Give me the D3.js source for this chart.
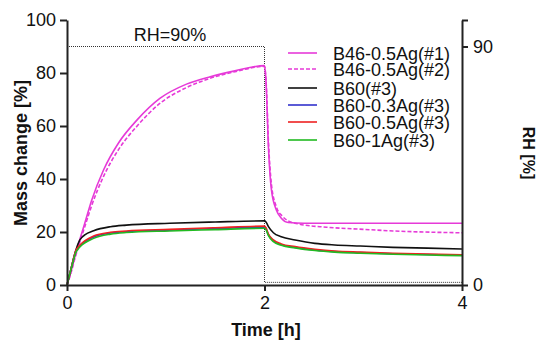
<!DOCTYPE html>
<html><head><meta charset="utf-8">
<script src="https://cdn.jsdelivr.net/npm/d3@7"></script>
<style>body{margin:0;background:#fff}svg{display:block}text{font-family:"Liberation Sans",Arial,sans-serif}</style>
</head><body>
<svg id="c" width="541" height="340"></svg>
<script>
// ---- data (time [h], mass change [%]) ----
const seriesNames = ["B46-0.5Ag(#1)","B46-0.5Ag(#2)","B60(#3)","B60-0.3Ag(#3)","B60-0.5Ag(#3)","B60-1Ag(#3)"];
const seriesColors = ["#e63ad8","#e63ad8","#111111","#3333cc","#ee2222","#22bb22"];
const seriesDash = [null,"4,2",null,null,null,null];
const b46_1 = [[0,0],[0.04,5],[0.08,10.7],[0.12,16],[0.18,23.3],[0.25,32],[0.37,43.4],[0.52,53.5],[0.71,62.3],[0.94,70.4],[1.21,75.8],[1.45,78.6],[1.7,80.8],[2.0,82.8],[2.015,77],[2.04,52],[2.07,36],[2.12,28.3],[2.17,25.2],[2.24,23.6],[2.4,23.3],[3,23.3],[4,23.3]];
const b46_2 = [[0,0],[0.04,4.5],[0.08,10],[0.12,15],[0.18,22],[0.25,30],[0.37,41],[0.52,51],[0.71,60],[0.94,68.5],[1.21,74.5],[1.45,78],[1.7,80.5],[2.0,82.5],[2.015,77.5],[2.04,54],[2.07,38],[2.12,29.5],[2.18,26],[2.25,24],[2.35,23],[2.63,21.8],[3,21],[3.3,20.4],[4,19.7]];
const b60 = [[0,0],[0.04,6],[0.09,13.2],[0.13,17],[0.18,18.9],[0.27,20.5],[0.44,22],[0.6,22.6],[1.04,23.3],[1.5,23.8],[2.0,24.2],[2.015,23.8],[2.04,22],[2.09,19.7],[2.17,18.2],[2.31,17],[2.51,15.7],[2.71,15.1],[2.97,14.7],[3.3,14.2],[3.65,13.9],[4,13.6]];
const b60_03 = [[0,0],[0.04,6],[0.09,12.7],[0.13,14.7],[0.27,18.1],[0.44,19.6],[0.6,20.1],[1.04,20.7],[1.5,21.3],[2.0,21.8],[2.015,21.2],[2.04,18.9],[2.09,16.7],[2.17,15.2],[2.31,14.2],[2.51,13.2],[2.71,12.6],[2.97,12.2],[3.3,11.8],[3.65,11.5],[4,11.2]];
const b60_05 = [[0,0],[0.04,6],[0.09,13],[0.13,15],[0.27,18.5],[0.44,19.9],[0.6,20.4],[1.04,21],[1.5,21.6],[2.0,22.2],[2.015,21.6],[2.04,19.2],[2.09,17],[2.17,15.5],[2.31,14.5],[2.51,13.5],[2.71,12.8],[2.97,12.4],[3.3,12],[3.65,11.7],[4,11.4]];
const b60_1 = [[0,0],[0.04,5.8],[0.09,12.3],[0.13,14.3],[0.27,17.6],[0.44,19.2],[0.6,19.8],[1.04,20.4],[1.5,20.9],[2.0,21.4],[2.015,20.9],[2.04,18.6],[2.09,16.4],[2.17,15],[2.31,14],[2.51,13],[2.71,12.4],[2.97,12],[3.3,11.6],[3.65,11.3],[4,11.1]];
const rhProfile = [[0,90],[2,90],[2,1],[4,1]];
const xTicks = [0,2,4];
const yTicks = [0,20,40,60,80,100];
const rhTicks = [0,90,100];

const allSeries = [b46_1,b46_2,b60,b60_03,b60_05,b60_1];

const svg = d3.select("#c");
const L=67, R=462, T=20, B=285;
const x = d3.scaleLinear().domain([0,4]).range([L,R]);
const y = d3.scaleLinear().domain([0,100]).range([B,T]);
const yr = d3.scaleLinear().domain([0,100]).range([B,T]);

// RH profile
svg.append("path").datum(rhProfile)
  .attr("d", d3.line().x(d=>x(d[0])).y(d=>yr(d[1])))
  .attr("fill","none").attr("stroke","#333").attr("stroke-width",1).attr("stroke-dasharray","1,1");

svg.append("text").attr("x",170).attr("y",41).attr("text-anchor","middle")
  .attr("font-size",18).attr("fill","#111").text("RH=90%");

// series
const line = d3.line().x(d=>x(d[0])).y(d=>y(d[1])).curve(d3.curveMonotoneX);
allSeries.forEach((s,i)=>{
  svg.append("path").datum(s).attr("d",line).attr("fill","none")
    .attr("stroke",seriesColors[i]).attr("stroke-width",1.6)
    .attr("stroke-dasharray",seriesDash[i]);
});

// axes
function styleAxis(g){
  g.selectAll("path").attr("stroke","#222").attr("stroke-width",2);
  g.selectAll("line").attr("stroke","#222").attr("stroke-width",2);
  g.selectAll("text").attr("font-size",18).attr("fill","#111").attr("font-family","'Liberation Sans',Arial,sans-serif");
}
const gx = svg.append("g").attr("transform",`translate(0,${B})`)
  .call(d3.axisBottom(x).tickValues(xTicks).tickSize(6).tickSizeOuter(0).tickPadding(5).tickFormat(d3.format("d")));
styleAxis(gx);
const gy = svg.append("g").attr("transform",`translate(${L},0)`)
  .call(d3.axisLeft(y).tickValues(yTicks).tickSize(7).tickSizeOuter(0).tickPadding(4).tickFormat(d3.format("d")));
styleAxis(gy);
const gr = svg.append("g").attr("transform",`translate(${R},0)`)
  .call(d3.axisRight(yr).tickValues(rhTicks).tickSize(6).tickSizeOuter(0).tickPadding(5).tickFormat(d=>d===100?"":d3.format("d")(d)));
styleAxis(gr);

// axis titles
svg.append("text").attr("transform","translate(27,153) rotate(-90)").attr("text-anchor","middle")
  .attr("font-size",18).attr("font-weight","bold").attr("fill","#111").text("Mass change [%]");
svg.append("text").attr("x",266).attr("y",336).attr("text-anchor","middle")
  .attr("font-size",18).attr("font-weight","bold").attr("fill","#111").text("Time [h]");
svg.append("text").attr("transform","translate(523,153) rotate(90)").attr("text-anchor","middle")
  .attr("font-size",16).attr("font-weight","bold").attr("fill","#111").text("RH [%]");

// legend
const legY = [53,69,88,105,122,140];
seriesNames.forEach((n,i)=>{
  svg.append("line").attr("x1",288).attr("x2",317).attr("y1",legY[i]).attr("y2",legY[i])
    .attr("stroke",seriesColors[i]).attr("stroke-width",1.6).attr("stroke-dasharray",seriesDash[i]);
  svg.append("text").attr("x",333).attr("y",legY[i]+6.5).attr("font-size",18).attr("fill","#111").text(n);
});
</script>
</body></html>
